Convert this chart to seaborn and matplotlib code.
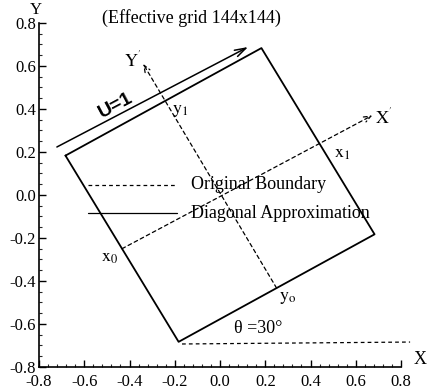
import numpy as np
import pandas as pd
import matplotlib
matplotlib.use("Agg")
import matplotlib.pyplot as plt
import seaborn as sns
from matplotlib.ticker import MultipleLocator

# ---- data ----
square_x = [-0.683, 0.183, 0.683, -0.183, -0.683]
square_y = [0.183, 0.683, -0.183, -0.683, 0.183]

xprime_start = (-0.433, -0.25)
xprime_end = (0.673, 0.37)
yprime_start = (0.25, -0.433)
yprime_end = (-0.34, 0.61)

lid_start = (-0.721, 0.223)
lid_end = (0.124, 0.688)

base_x = [-0.168, 0.84]
base_y = [-0.693, -0.684]

legend_dash_x = [-0.584, -0.19]
legend_dash_y = [0.047, 0.047]
legend_solid_x = [-0.584, -0.19]
legend_solid_y = [-0.084, -0.084]
legend_labels = ["Original Boundary", "Diagonal Approximation"]

xticks = [-0.8, -0.6, -0.4, -0.2, 0.0, 0.2, 0.4, 0.6, 0.8]
yticks = [-0.8, -0.6, -0.4, -0.2, 0.0, 0.2, 0.4, 0.6, 0.8]

# ---- figure ----
sns.set_style("ticks")
plt.rcParams['font.family'] = ['Liberation Serif', 'DejaVu Serif']
plt.rcParams['mathtext.fontset'] = 'stix'
plt.rcParams['text.color'] = 'black'

fig = plt.figure(figsize=(4.31, 3.91), dpi=100)
ax = fig.add_axes([0.0905, 0.0614, 0.840, 0.880])

sq = pd.DataFrame({"x": square_x, "y": square_y})
sns.lineplot(data=sq, x="x", y="y", sort=False, estimator=None, color="black",
             linewidth=1.3, ax=ax)

sns.lineplot(x=base_x, y=base_y, sort=False, estimator=None, color="black",
             linewidth=0.9, linestyle=(0, (3, 2.5)), ax=ax)
ax.lines[-1].set_clip_on(False)

sns.lineplot(x=legend_dash_x, y=legend_dash_y, sort=False, estimator=None,
             color="black", linewidth=0.9, linestyle=(0, (3, 2.5)), ax=ax)
sns.lineplot(x=legend_solid_x, y=legend_solid_y, sort=False, estimator=None,
             color="black", linewidth=0.9, ax=ax)

# rotated axes X', Y'
ax.annotate("", xy=xprime_end, xytext=xprime_start,
            arrowprops=dict(arrowstyle="->,head_length=0.5,head_width=0.2",
                            linestyle=(0, (3, 2.5)), lw=0.9,
                            color="black", shrinkA=0, shrinkB=0))
ax.annotate("", xy=yprime_end, xytext=yprime_start,
            arrowprops=dict(arrowstyle="->,head_length=0.5,head_width=0.2",
                            linestyle=(0, (3, 2.5)), lw=0.9,
                            color="black", shrinkA=0, shrinkB=0))
# lid velocity arrow
ax.annotate("", xy=lid_end, xytext=lid_start,
            arrowprops=dict(arrowstyle="->,head_length=0.8,head_width=0.25",
                            lw=1.1, color="black", shrinkA=0, shrinkB=0))

fs = 13
ax.text(-0.46, 0.415, "U=1", rotation=28, ha="center", va="center",
        fontsize=14, fontweight="bold", family="Liberation Sans",
        rotation_mode="anchor")
ax.text(-0.128, 0.823, "(Effective grid 144x144)", ha="center", va="center",
        fontsize=fs)
ax.text(-0.128, 0.047, legend_labels[0], ha="left", va="center", fontsize=fs)
ax.text(-0.128, -0.084, legend_labels[1], ha="left", va="center", fontsize=fs)
ax.text(0.168, -0.619, "θ =30°", ha="center", va="center", fontsize=fs)

ax.text(-0.487, -0.293, r"$\mathrm{x_0}$", ha="center", va="center", fontsize=fs)
ax.text(0.30, -0.479, r"$\mathrm{y_o}$", ha="center", va="center", fontsize=fs)
ax.text(0.54, 0.195, r"$\mathrm{x_1}$", ha="center", va="center", fontsize=fs)
ax.text(-0.177, 0.395, r"$\mathrm{y_1}$", ha="center", va="center", fontsize=fs)
ax.text(0.725, 0.363, r"$\mathrm{X^{'}}$", ha="center", va="center", fontsize=fs)
ax.text(-0.385, 0.628, r"$\mathrm{Y^{'}}$", ha="center", va="center", fontsize=fs)

ax.text(-0.815, 0.862, "Y", ha="center", va="center", fontsize=12, clip_on=False)
ax.text(0.885, -0.767, "X", ha="center", va="center", fontsize=fs, clip_on=False)

ax.set_xlim(-0.8, 0.8)
ax.set_ylim(-0.8, 0.8)
ax.set_xticks(xticks)
ax.set_yticks(yticks)
ax.set_xticklabels([f"{v:.1f}" for v in xticks])
ax.set_yticklabels([f"{v:.1f}" for v in yticks])
ax.xaxis.set_minor_locator(MultipleLocator(0.04))
ax.yaxis.set_minor_locator(MultipleLocator(0.05))
ax.tick_params(which="major", direction="in", length=5, width=1.0,
               labelsize=12, colors="black")
ax.tick_params(axis="x", which="major", pad=5)
ax.tick_params(axis="y", which="major", pad=2)
ax.tick_params(which="minor", direction="in", length=2.5, width=0.8)
ax.set_xlabel("")
ax.set_ylabel("")
sns.despine(ax=ax)
for s in ("left", "bottom"):
    ax.spines[s].set_linewidth(1.2)
    ax.spines[s].set_color("black")

fig.savefig("out.png", dpi=100)
